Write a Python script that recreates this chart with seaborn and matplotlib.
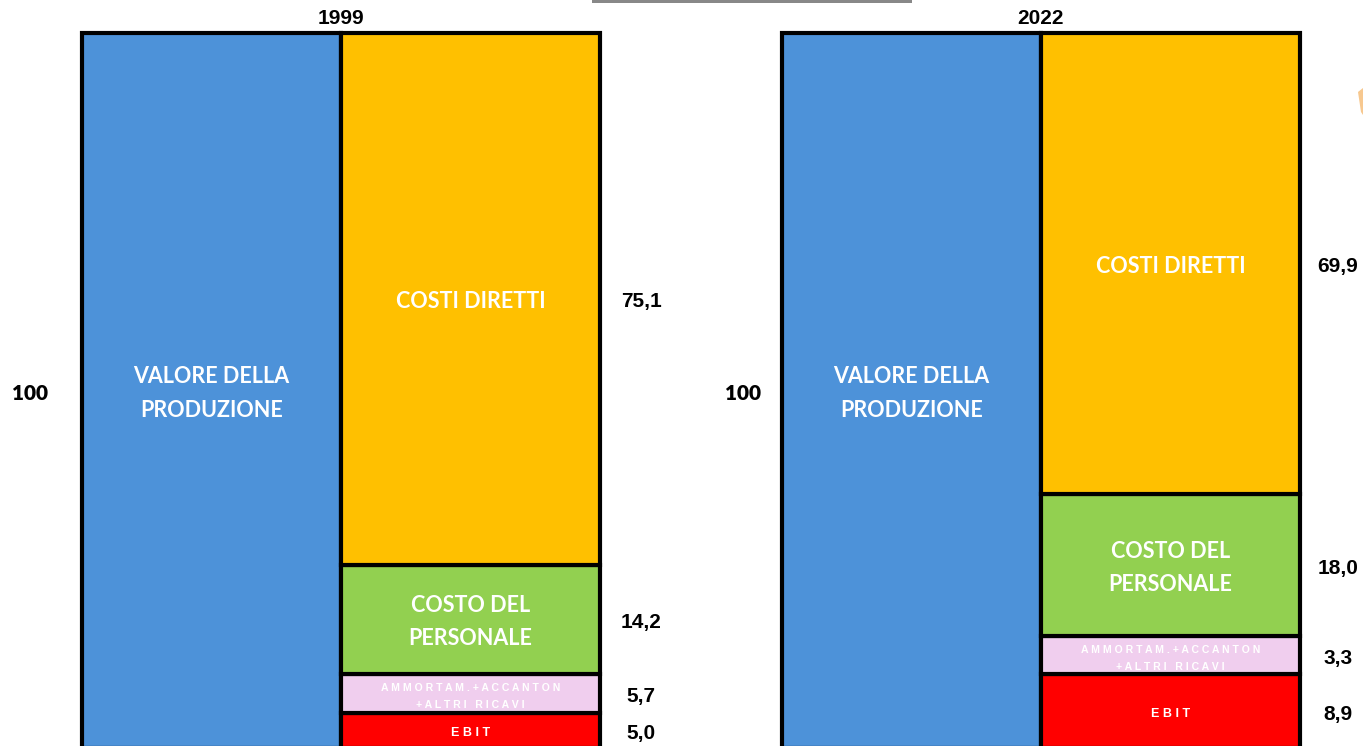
import matplotlib
matplotlib.use("Agg")
import matplotlib.pyplot as plt
from matplotlib.patches import Rectangle, Polygon
from matplotlib.transforms import offset_copy
import seaborn as sns

sns.set_theme(style="white")
plt.rcParams['font.family'] = ['Liberation Sans', 'DejaVu Sans']
plt.rcParams['text.color'] = 'black'

# ---------------- data ----------------
years = ["1999", "2022"]
total_value = [100, 100]
total_label = ["100", "100"]
segment_names = ["COSTI DIRETTI", "COSTO DEL\nPERSONALE",
                 "A M M O R T A M . + A C C A N T O N\n+ A L T R I   R I C A V I",
                 "E B I T"]
# segment heights as drawn in the picture (top to bottom)
heights_1999 = [74.4, 15.2, 5.5, 4.9]
heights_2022 = [64.5, 19.9, 5.3, 10.3]
labels_1999 = ["75,1", "14,2", "5,7", "5,0"]
labels_2022 = ["69,9", "18,0", "3,3", "8,9"]
total_name = "VALORE DELLA\nPRODUZIONE"

seg_colors = ["#FFC000", "#92D050", "#F0CEEE", "#FF0000"]
blue = "#4D92D9"

W, H = 1363, 746
fig = plt.figure(figsize=(W / 100, H / 100), dpi=100)

lw = 3.0
order = ["tot", "stack"]

panels = [
    dict(year=years[0], total=total_value[0], tlabel=total_label[0],
         heights=heights_1999, labels=labels_1999, left=82, left_off=0.20, right_off=0.159),
    dict(year=years[1], total=total_value[1], tlabel=total_label[1],
         heights=heights_2022, labels=labels_2022, left=782, left_off=0.15, right_off=0.147),
]

bottom_px, top_px = 748, 33
for p in panels:
    ax = fig.add_axes([p["left"] / W, (H - bottom_px) / H, 518 / W, (bottom_px - top_px) / H])
    # total bar
    sns.barplot(x=["tot"], y=[p["total"]], order=order, color=blue, width=1.0,
                edgecolor="black", linewidth=lw, errorbar=None, ax=ax, saturation=1)
    # stacked bar, drawn from bottom
    hs = p["heights"][::-1]
    cs = seg_colors[::-1]
    base = 0.0
    centers = []
    for h, c in zip(hs, cs):
        sns.barplot(x=["stack"], y=[h], order=order, bottom=base, color=c, width=1.0,
                    edgecolor="black", linewidth=lw, errorbar=None, ax=ax, saturation=1)
        centers.append(base + h / 2)
        base += h
    centers = centers[::-1]
    for patch in ax.patches:
        patch.set_clip_on(False)
    ax.set_xlim(-0.5, 1.5)
    ax.set_ylim(0, 100)
    ax.axis("off")

    # shift labels down by ~3 px
    tr = offset_copy(ax.transData, fig=fig, x=0, y=-3, units="dots")

    # title
    ax.text(0.5, 100 + 15 / 7.15, p["year"], ha="center", va="center",
            fontsize=15, fontweight="bold", color="black",
            family=["Liberation Sans Narrow", "Liberation Sans", "DejaVu Sans"], clip_on=False)
    # total bar labels
    ax.text(0, p["total"] / 2, total_name, ha="center", va="center", color="white",
            fontsize=15.5, fontweight="bold", family=["Lato", "DejaVu Sans"],
            linespacing=1.72, transform=tr)
    ax.text(-0.5 - p["left_off"], p["total"] / 2, p["tlabel"], ha="center", va="center",
            fontsize=15, fontweight="heavy", color="black",
            family=["Lato", "DejaVu Sans"], clip_on=False, transform=tr)
    # segment labels
    for i, (name, cy, lab) in enumerate(zip(segment_names, centers, p["labels"])):
        if i < 2:
            ax.text(1, cy, name, ha="center", va="center", color="white",
                    fontsize=15.5, fontweight="bold", family=["Lato", "DejaVu Sans"],
                    linespacing=1.72, transform=tr)
        elif i == 2:
            ax.text(1, cy, name, ha="center", va="center", color="white",
                    fontsize=7.6, fontweight="bold", linespacing=1.85, transform=tr)
        else:
            ax.text(1, cy, name, ha="center", va="center", color="white",
                    fontsize=9, fontweight="bold", transform=tr)
        ax.text(1.5 + p["right_off"], cy, lab, ha="center", va="center",
                fontsize=15, fontweight="bold", color="black", clip_on=False, transform=tr)

# decorative fragments at the image edges
fig.add_artist(Rectangle((592 / W, (H - 3) / H), 320 / W, 3 / H,
                         transform=fig.transFigure, color="#888888", lw=0))
fig.add_artist(Polygon([(1358 / W, (H - 92) / H), (1363 / W, (H - 88) / H),
                        (1363 / W, (H - 115) / H), (1361 / W, (H - 112) / H)],
                       closed=True, transform=fig.transFigure, color="#F7C88F", lw=0))

fig.savefig("out.png", dpi=100)
